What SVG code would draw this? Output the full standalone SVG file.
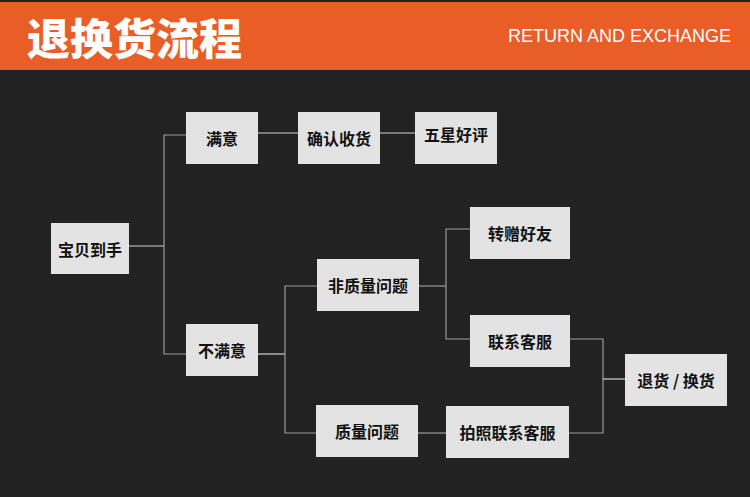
<svg xmlns="http://www.w3.org/2000/svg" width="750" height="497" viewBox="0 0 750 497">
<style>
.node rect{fill:#e3e3e3}
.node text{font-family:"Noto Sans CJK SC","Noto Sans",sans-serif;font-size:16px;font-weight:700;fill:#111;text-anchor:middle;dominant-baseline:central}
.c{fill:none;stroke:#9a9a9a;stroke-width:1.2}
.h{fill:none;stroke:#d0d0d0;stroke-width:1.2}
</style>
<rect x="0" y="0" width="750" height="497" fill="#222222"/>
<rect x="0" y="2" width="750" height="68" fill="#e95e27"/>
<text x="27" y="36" font-family="'Noto Sans CJK SC',sans-serif" font-size="43" font-weight="900" fill="#ffffff" dominant-baseline="central">退换货流程</text>
<text x="731" y="42" font-family="'Liberation Sans',Arial,sans-serif" font-size="18" fill="#ffffff" text-anchor="end">RETURN AND EXCHANGE</text>
<g id="connectors">
<path class="h" d="M129 246H164"/>
<path class="c" d="M186 135H164V354H186"/>
<path class="h" d="M258 133H298M380 133H415"/>
<path class="h" d="M258 354H285"/>
<path class="c" d="M317 286H285V433H316"/>
<path class="c" d="M419 286H446"/>
<path class="c" d="M470 229H446V339H470"/>
<path class="c" d="M418 433H446"/>
<path class="c" d="M570 339H603V433H569"/>
<path class="h" d="M603 379H625"/>
</g>
<g id="n1" class="node"><rect x="51" y="223" width="78" height="51"/><text x="90" y="248.5">宝贝到手</text></g>
<g id="n2" class="node"><rect x="186" y="112" width="72" height="52"/><text x="222" y="138">满意</text></g>
<g id="n3" class="node"><rect x="186" y="324" width="72" height="52"/><text x="222" y="350">不满意</text></g>
<g id="n4" class="node"><rect x="298" y="112" width="82" height="52"/><text x="339" y="138">确认收货</text></g>
<g id="n5" class="node"><rect x="415" y="112" width="82" height="52"/><text x="456" y="134">五星好评</text></g>
<g id="n6" class="node"><rect x="470" y="207" width="100" height="52"/><text x="520" y="233">转赠好友</text></g>
<g id="n7" class="node"><rect x="317" y="259" width="102" height="52"/><text x="368" y="285">非质量问题</text></g>
<g id="n8" class="node"><rect x="470" y="315" width="100" height="52"/><text x="520" y="341">联系客服</text></g>
<g id="n9" class="node"><rect x="316" y="405" width="102" height="52"/><text x="367" y="431">质量问题</text></g>
<g id="n10" class="node"><rect x="446" y="406" width="123" height="52"/><text x="507.5" y="432">拍照联系客服</text></g>
<g id="n11" class="node"><rect x="625" y="354" width="102" height="52"/><text x="676" y="380">退货 / 换货</text></g>
</svg>
